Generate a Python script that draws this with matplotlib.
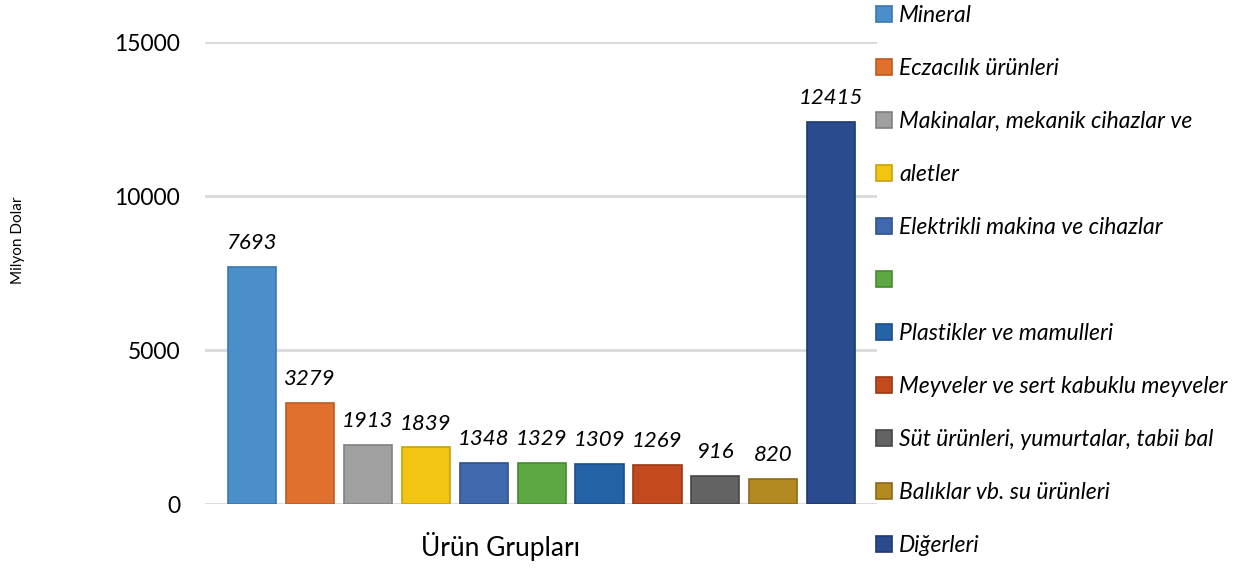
import matplotlib
matplotlib.use("Agg")
import matplotlib.pyplot as plt

# Ürün grupları ve değerleri (milyon dolar)
categories = [
    "Mineral",
    "Eczacılık ürünleri",
    "Makinalar, mekanik cihazlar ve",
    "aletler",
    "Elektrikli makina ve cihazlar",
    "",
    "Plastikler ve mamulleri",
    "Meyveler ve sert kabuklu meyveler",
    "Süt ürünleri, yumurtalar, tabii bal",
    "Balıklar vb. su ürünleri",
    "Diğerleri",
]
values = [7693, 3279, 1913, 1839, 1348, 1329, 1309, 1269, 916, 820, 12415]
colors = [
    "#4a8fca", "#e0702e", "#a0a0a0", "#f2c512", "#3f68ad", "#5ea843",
    "#2463a6", "#c24a1e", "#636363", "#b38a22", "#2a4b8e",
]
edge_colors = [
    "#3a78b0", "#c05a20", "#808080", "#c9a010", "#2f5290", "#468a30",
    "#1a4f88", "#9a3814", "#474747", "#8c6a14", "#1e3a72",
]
yticks = [0, 5000, 10000, 15000]

plt.rcParams["font.family"] = ["Lato", "DejaVu Sans"]

fig = plt.figure(figsize=(12.44, 5.69), dpi=100)
ax = fig.add_axes([0.1648, 0.1142, 0.5402, 0.8118])

x = list(range(len(values)))
bars = ax.bar(x, values, width=0.83, color=colors, edgecolor=edge_colors,
              linewidth=1.2, zorder=3)

for xi, v in zip(x, values):
    ax.annotate(str(v), (xi, v), xytext=(0, 10), textcoords="offset points",
                ha="center", va="bottom", fontsize=16, style="italic")

ax.set_xlim(-0.81, 10.79)
ax.set_ylim(0, 15000)
ax.set_yticks(yticks)
ax.set_xticks([])
ax.tick_params(axis="y", length=0, pad=18, labelsize=16.5)
ax.grid(axis="y", color="#d9d9d9", linewidth=2, zorder=0)
for s in ax.spines.values():
    s.set_visible(False)

ax.set_xlabel("Ürün Grupları", fontsize=19)
ax.xaxis.set_label_coords((500 - 205) / 672, -0.06)
fig.text(18 / 1244, 1 - 240 / 569, "Milyon Dolar", rotation=90,
         ha="center", va="center", fontsize=11)

fig.legend(bars, categories, loc="upper left",
           bbox_to_anchor=(867 / 1244, 1.008), frameon=False,
           prop={"size": 16.5, "style": "italic"},
           handlelength=0.7, handleheight=0.7, handletextpad=0.3,
           labelspacing=1.40, borderaxespad=0.0)

fig.savefig("out.png", dpi=100)
